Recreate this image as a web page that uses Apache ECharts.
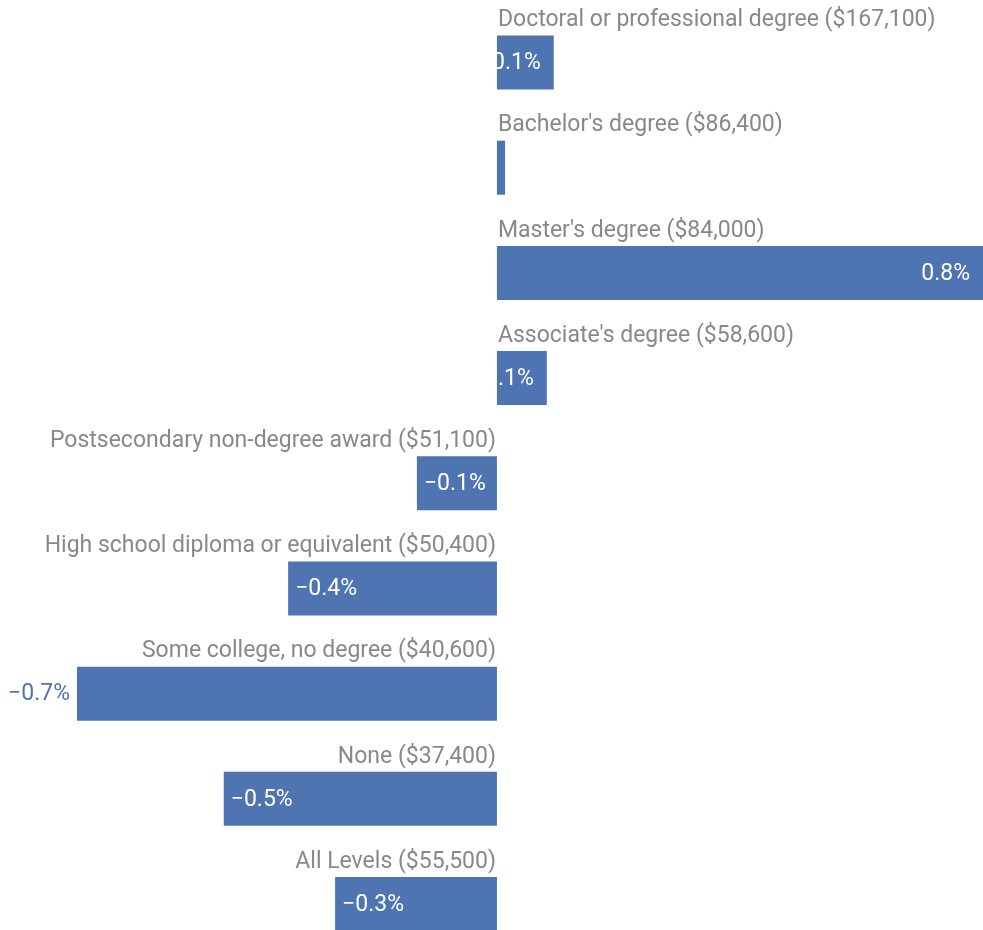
<!DOCTYPE html>
<html>
<head>
<meta charset="utf-8">
<script src="https://cdn.jsdelivr.net/npm/echarts@6/dist/echarts.min.js"></script>
<style>
  html, body { margin: 0; padding: 0; background: #fff; }
  #chart { width: 983px; height: 930px; }
</style>
</head>
<body>
<div id="chart"></div>
<script>
var categories = [
  "Doctoral or professional degree ($167,100)",
  "Bachelor's degree ($86,400)",
  "Master's degree ($84,000)",
  "Associate's degree ($58,600)",
  "Postsecondary non-degree award ($51,100)",
  "High school diploma or equivalent ($50,400)",
  "Some college, no degree ($40,600)",
  "None ($37,400)",
  "All Levels ($55,500)"
]
// percent change
var values = [0.098, 0.014, 0.838, 0.086, -0.138, -0.36, -0.724, -0.471, -0.279]

var barColor = '#4e74b2'
var textColor = '#6a6a6a'
var font = 'Roboto'

function fmt(v) {
  var s = Math.abs(v).toFixed(1) + '%'
  return v < 0 ? '\u2212' + s : s
}

var barData = values.map(function (v, i) {
  var item = {
    value: v,
    label: {
      position: v < 0 ? 'insideLeft' : 'insideRight',
      distance: v < 0 ? 7 : 13
    }
  }
  // widest negative bar gets its label outside
  if (i === 6) {
    item.label = { position: 'left', distance: 7, color: barColor }
  }
  return item
})

var nameData = values.map(function (v, i) {
  return {
    value: [0, i],
    label: {
      align: v < 0 ? 'right' : 'left',
      offset: v < 0 ? [-1, -42] : [1, -42]
    }
  }
})

var chart = echarts.init(document.getElementById('chart'))
chart.setOption({
  animation: false,
  grid: {
    left: 77,
    right: 0,
    top: 62.5,
    height: 841.5
  },
  xAxis: {
    type: 'value',
    min: -0.724,
    max: 0.838,
    show: false
  },
  yAxis: {
    type: 'category',
    data: categories,
    inverse: true,
    boundaryGap: false,
    show: false
  },
  series: [{
    type: 'bar',
    data: barData,
    barWidth: 54,
    clip: false,
    itemStyle: { color: barColor },
    label: {
      show: true,
      color: '#fff',
      fontFamily: font,
      fontSize: 23,
      offset: [0, 1],
      formatter: function (p) { return fmt(p.value) }
    }
  }, {
    type: 'scatter',
    data: nameData,
    symbolSize: 0,
    silent: true,
    clip: false,
    label: {
      show: true,
      position: 'inside',
      color: textColor,
      fontFamily: font,
      fontSize: 23,
      verticalAlign: 'middle',
      formatter: function (p) { return categories[p.dataIndex] }
    }
  }]
})
</script>
</body>
</html>
